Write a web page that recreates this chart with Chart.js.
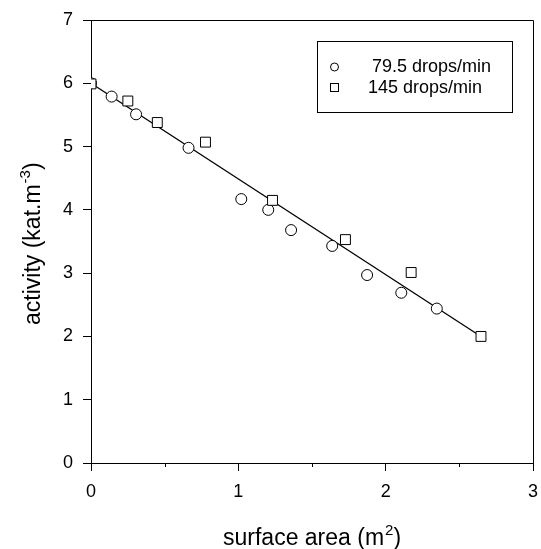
<!DOCTYPE html>
<html><head><meta charset="utf-8">
<script src="https://cdn.jsdelivr.net/npm/chart.js@4/dist/chart.umd.min.js"></script>
<style>html,body{margin:0;padding:0;background:#fff}#wrap{width:541px;height:549px}</style>
</head><body><div id="wrap"><canvas id="c" width="541" height="549"></canvas></div>
<script>
// ---- data ----
const circleX = [0, 0.14, 0.306, 0.662, 1.02, 1.203, 1.358, 1.637, 1.874, 2.106, 2.347];
const circleY = [6.0, 5.79, 5.51, 4.98, 4.17, 4.0, 3.68, 3.43, 2.97, 2.69, 2.44];
const squareX = [0, 0.25, 0.45, 0.777, 1.232, 1.727, 2.173, 2.647];
const squareY = [5.99, 5.72, 5.38, 5.07, 4.15, 3.53, 3.01, 2.0];
const fitX = [0, 2.647];
const fitY = [6.0, 2.0];
const seriesLabels = ['79.5 drops/min', '145 drops/min'];
const xTitle = ['surface area (m', '2', ')'];
const yTitle = ['activity (kat.m', '-3', ')'];
const xMinorTicks = [0.5, 1.5, 2.5];

const pts = (xs, ys) => xs.map((x, i) => ({x: x, y: ys[i]}));
const FONT = "'Liberation Sans', Arial, sans-serif";

const decorPlugin = {
  id: 'decor',
  afterDraw(chart) {
    const ctx = chart.ctx, a = chart.chartArea;
    const xs = chart.scales.x;
    ctx.save();
    // frame top/right
    ctx.strokeStyle = '#000'; ctx.lineWidth = 1;
    ctx.beginPath();
    ctx.moveTo(a.left, a.top + 0.5); ctx.lineTo(a.right + 0.5, a.top + 0.5); ctx.lineTo(a.right + 0.5, a.bottom);
    ctx.stroke();
    // minor x ticks
    ctx.beginPath();
    xMinorTicks.forEach(v => {
      const px = Math.round(xs.getPixelForValue(v)) + 0.5;
      ctx.moveTo(px, a.bottom); ctx.lineTo(px, a.bottom + 4);
    });
    ctx.stroke();
    // legend box
    const lx = 317, ly = 41, lw = 195, lh = 71;
    ctx.strokeRect(lx + 0.5, ly + 0.5, lw, lh);
    ctx.fillStyle = '#000';
    ctx.font = '18px ' + FONT;
    ctx.textBaseline = 'middle';
    ctx.textAlign = 'left';
    // circle
    ctx.beginPath(); ctx.arc(334.5, 67, 4, 0, Math.PI * 2); ctx.stroke();
    ctx.fillText(chart.data.datasets[0].label, 372, 67);
    // square
    ctx.strokeRect(330.5, 83.5, 8, 8);
    ctx.fillText(chart.data.datasets[1].label, 368, 88);
    // x title
    ctx.textBaseline = 'alphabetic';
    let x = 223, y = 545;
    ctx.font = '23px ' + FONT; ctx.fillText(xTitle[0], x, y); x += ctx.measureText(xTitle[0]).width + 1;
    ctx.font = '15px ' + FONT; ctx.fillText(xTitle[1], x, y - 10); x += ctx.measureText(xTitle[1]).width;
    ctx.font = '23px ' + FONT; ctx.fillText(xTitle[2], x, y);
    // y title (rotated)
    ctx.translate(40, 325); ctx.rotate(-Math.PI / 2);
    x = 0;
    ctx.font = '23px ' + FONT; ctx.fillText(yTitle[0], x, 0); x += ctx.measureText(yTitle[0]).width + 1;
    ctx.font = '15px ' + FONT; ctx.fillText(yTitle[1], x, -10); x += ctx.measureText(yTitle[1]).width;
    ctx.font = '23px ' + FONT; ctx.fillText(yTitle[2], x, 0);
    ctx.restore();
  }
};

new Chart(document.getElementById('c'), {
  type: 'scatter',
  data: {
    datasets: [
      { label: seriesLabels[0], data: pts(circleX, circleY), pointStyle: 'circle', pointRadius: 5.5,
        backgroundColor: '#fff', borderColor: '#000', borderWidth: 1, order: 2 },
      { label: seriesLabels[1], data: pts(squareX, squareY), pointStyle: 'rect', pointRadius: 7,
        backgroundColor: '#fff', borderColor: '#000', borderWidth: 1, order: 1 },
      { type: 'line', label: 'fit', data: pts(fitX, fitY), showLine: true, pointRadius: 0,
        borderColor: '#000', borderWidth: 1.3, fill: false, order: 3 }
    ]
  },
  options: {
    responsive: false, animation: false,
    layout: { padding: { left: 0, top: 20, right: 7, bottom: 0 } },
    plugins: { legend: { display: false }, tooltip: { enabled: false } },
    scales: {
      x: {
        type: 'linear', min: 0, max: 3,
        afterFit(s) { s.height = 86; s.paddingLeft = 0; s.paddingRight = 0; },
        ticks: { stepSize: 1, color: '#000', font: { size: 18, family: FONT }, padding: 10, maxRotation: 0 },
        grid: { drawOnChartArea: false, drawTicks: true, tickLength: 8, color: '#000' },
        border: { display: true, color: '#000', width: 1 }
      },
      y: {
        type: 'linear', min: 0, max: 7,
        afterFit(s) { s.width = 91; s.paddingTop = 0; s.paddingBottom = 0; },
        ticks: { stepSize: 1, color: '#000', font: { size: 18, family: FONT }, padding: 10 },
        grid: { drawOnChartArea: false, drawTicks: true, tickLength: 8, color: '#000' },
        border: { display: true, color: '#000', width: 1 }
      }
    }
  },
  plugins: [decorPlugin]
});
</script>
</body></html>
